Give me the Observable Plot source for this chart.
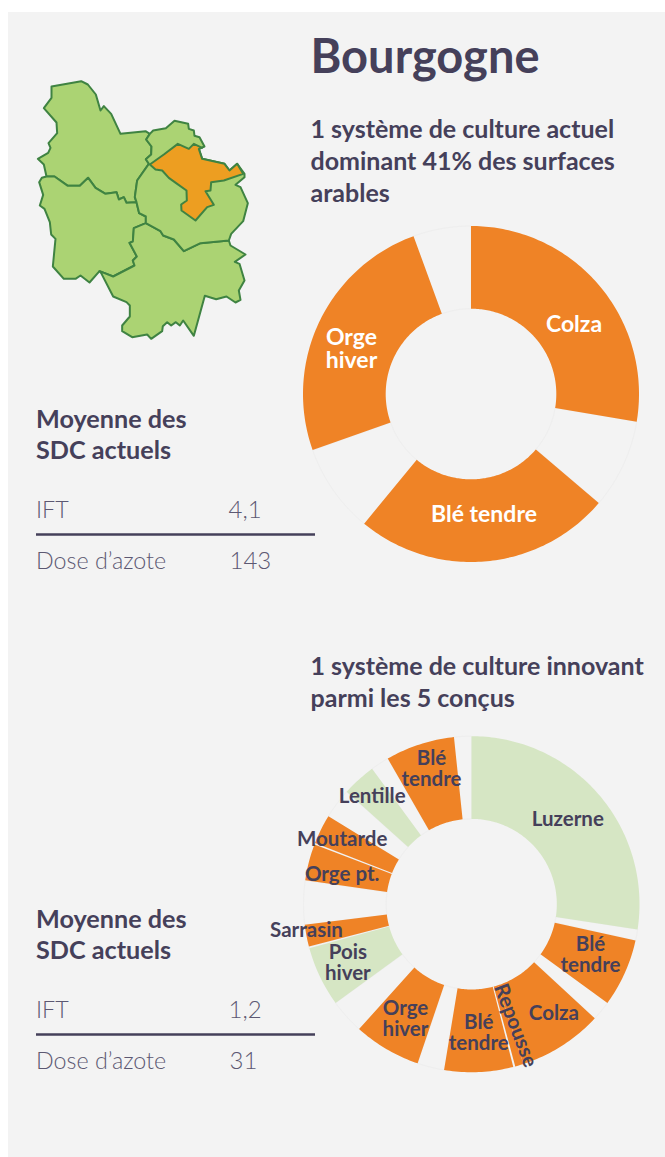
<!DOCTYPE html>
<html lang="fr">
<head>
<meta charset="utf-8">
<script src="https://cdn.jsdelivr.net/npm/d3@7"></script>
<script src="https://cdn.jsdelivr.net/npm/@observablehq/plot@0.6"></script>
<style>
html,body{margin:0;padding:0;background:#fff;}
#panel{position:absolute;left:8px;top:12px;width:657px;height:1145px;background:#f3f3f3;}
#chart{position:absolute;left:0;top:0;}
</style>
</head>
<body>
<div id="panel"></div>
<div id="chart"></div>
<script>
// ---- data: slice spans in degrees of the rotation (gap = no crop shown)
const currentCrops  = ["Colza","","Blé tendre","","Orge\nhiver",""];
const currentSpans  = [99.5,31,89,31,89.5,20];
const currentKinds  = ["crop","gap","crop","gap","crop","gap"];

const innovCrops = ["Luzerne","","Blé\ntendre","","Colza","Repousse","","Blé\ntendre","","Orge\nhiver","","Pois\nhiver","","Sarrasin","","Orge pt.","","Moutarde","","Lentille","","Blé\ntendre",""];
const innovSpans = [98.7,3.8,23.5,6.8,29.2,2.9,0.7,23.8,9.3,23.3,12,20.8,0.6,7.6,15.2,12.6,0.6,10.2,10.4,11.7,6.4,23.9,6];
const innovKinds = ["legume","gap","crop","gap","crop","crop","gap","crop","gap","crop","gap","legume","gap","crop","gap","crop","gap","crop","gap","legume","gap","crop","gap"];

// stats tables
const statHeading = "Moyenne des\nSDC actuels";
const statNames = ["IFT","Dose d’azote"];
const statCurrent = ["4,1","143"];
const statInnov = ["1,2","31"];

// map outlines
const mapYonne = [[93,78],[182,62],[202,72],[226,102],[240,150],[250,137],[272,160],[300,220],[375,212],[388,220],[377,237],[393,258],[392,282],[376,296],[385,310],[350,360],[343,410],[348,425],[318,427],[310,410],[295,417],[288,395],[255,400],[225,382],[203,352],[178,376],[142,376],[102,348],[78,348],[70,312],[52,295],[83,277],[90,262],[84,248],[110,218],[108,186],[70,143],[93,112]];
const mapNievre = [[78,348],[102,348],[142,376],[178,376],[203,352],[225,382],[255,400],[288,395],[295,417],[310,410],[318,427],[348,425],[356,458],[376,468],[376,488],[340,503],[337,543],[327,547],[349,588],[337,600],[342,615],[278,648],[237,632],[207,666],[180,645],[165,655],[130,655],[97,618],[105,535],[92,522],[88,485],[72,445],[58,435],[68,403],[56,365],[64,352]];
const mapSaone = [[376,488],[420,512],[428,525],[460,537],[490,572],[540,548],[625,540],[630,555],[675,582],[643,604],[657,610],[672,660],[655,690],[660,718],[645,726],[618,708],[587,716],[553,706],[520,826],[488,780],[478,795],[466,785],[452,795],[440,785],[427,797],[425,812],[392,835],[380,822],[335,830],[305,812],[305,795],[328,768],[328,735],[318,725],[278,708],[242,638],[237,632],[278,648],[342,615],[337,600],[349,588],[327,547],[337,543],[340,503]];
const mapCote = [[388,220],[398,210],[436,203],[462,181],[503,190],[505,205],[520,210],[522,226],[537,230],[552,258],[535,265],[545,295],[612,310],[627,330],[650,310],[672,340],[672,350],[645,373],[660,380],[682,428],[668,482],[632,520],[625,540],[540,548],[490,572],[460,537],[428,525],[420,512],[376,488],[376,468],[356,458],[348,425],[343,410],[350,360],[385,310],[376,296],[392,282],[393,258],[377,237]];
const mapZone = [[388,312],[430,282],[472,250],[505,265],[520,250],[545,262],[535,265],[545,295],[612,310],[627,330],[650,310],[668,340],[610,360],[572,365],[570,390],[555,392],[580,433],[560,440],[525,480],[483,450],[482,432],[499,420],[498,390],[470,370],[445,352],[425,330],[405,327]];

// ---- layout, separate from the data
const INK="#45405a", ORANGE="#ef8326", LEGUME="#d6e6c4", GAP="#f3f3f3", GAPEDGE="#eeeeee";
const R0=85.3, R1=168;
const donutA={cx:470.5,cy:393.5}, donutB={cx:471,cy:903.7};
const sliceFill={crop:ORANGE,legume:LEGUME,gap:GAP};
const mapX=x=>x/3+20, mapY=y=>y/3+60;

function ring(spans,kinds,c,id){
  const arcs=d3.pie().sort(null).value(d=>d)(spans);
  const pts=[];
  arcs.forEach((a,i)=>{
    const k=kinds[i], n=Math.max(2,Math.ceil((a.endAngle-a.startAngle)*180/Math.PI));
    const ang=d3.range(n+1).map(j=>a.startAngle+(a.endAngle-a.startAngle)*j/n);
    const push=(t,r)=>pts.push({id:id+i,kind:k,x:c.cx+r*Math.sin(t),y:c.cy-r*Math.cos(t)});
    ang.forEach(t=>push(t,R1));
    ang.slice().reverse().forEach(t=>push(t,R0));
  });
  return pts;
}
const polys=[];
[["y",mapYonne,"#abd373"],["n",mapNievre,"#abd373"],["s",mapSaone,"#abd373"],["c",mapCote,"#abd373"],["z",mapZone,"#ed9e21"]]
 .forEach(([id,p,f])=>p.forEach(([x,y])=>polys.push({id,f,x:mapX(x),y:mapY(y)})));

const ringA=ring(currentSpans,currentKinds,donutA,"a");
const ringB=ring(innovSpans,innovKinds,donutB,"b");
const slices=[...ringA,...ringB];

// label placement: offset from each ring centre
const labelsA=[
 {t:currentCrops[0],dx:103,dy:-69.5},
 {t:currentCrops[2],dx:13,dy:120.5},
 {t:currentCrops[4],dx:-119.5,dy:-45}
].map(d=>({...d,x:donutA.cx+d.dx,y:donutA.cy+d.dy}));
const labelOffsetsB={0:[96.3,-85],2:[119,51],4:[82.3,108.6],7:[7.3,128.3],9:[-66,114.3],11:[-123.7,58.6],13:[-165,26.3],15:[-129.3,-30.4],17:[-129.3,-65.4],19:[-99.3,-107.7],21:[-40,-135]};
const labelsB=Object.entries(labelOffsetsB).map(([i,[dx,dy]])=>({t:innovCrops[i],x:donutB.cx+dx,y:donutB.cy+dy}));
const repousse=[{t:innovCrops[5],x:donutB.cx+44,y:donutB.cy+121.3}];

const tx={fontFamily:"Lato, sans-serif"};
const headers=[
 {t:"Bourgogne",x:310,y:57},
 {t:"1 système de culture actuel\ndominant 41% des surfaces\narables",x:310,y:159.5},
 {t:"1 système de culture innovant\nparmi les 5 conçus",x:310,y:680.5}
];
const blocks=[
 {y0:0,vals:statCurrent},
 {y0:500,vals:statInnov}
];
const headRows=blocks.map(b=>({t:statHeading,x:35.5,y:433+b.y0}));
const statRows=blocks.flatMap(b=>[
 {t:statNames[0],x:35.5,y:510+b.y0},{t:statNames[1],x:35.5,y:561+b.y0}
]);
const statVals=blocks.flatMap(b=>[
 {t:b.vals[0],x:228,y:510+b.y0},{t:b.vals[1],x:229,y:561+b.y0}
]);
const rules=blocks.map(b=>({x1:36,x2:315,y:534+b.y0}));

const chart=Plot.plot({
 width:665,height:1157,margin:0,
 x:{domain:[0,665],range:[0,665],axis:null},
 y:{domain:[0,1157],range:[0,1157],axis:null},
 style:{background:"transparent"},
 marks:[
  Plot.line(polys,{x:"x",y:"y",z:"id",fill:"f",stroke:"#3f8342",strokeWidth:2,strokeLinejoin:"round",curve:"linear-closed"}),
  Plot.line(slices,{x:"x",y:"y",z:"id",fill:d=>sliceFill[d.kind],stroke:GAPEDGE,strokeWidth:1,curve:"linear-closed",filter:d=>d.kind==="gap"}),
  Plot.line(slices,{x:"x",y:"y",z:"id",fill:d=>sliceFill[d.kind],stroke:"none",curve:"linear-closed",filter:d=>d.kind!=="gap"}),
  Plot.ruleY(rules,{x1:"x1",x2:"x2",y:"y",stroke:INK,strokeWidth:2.5}),
  Plot.text(headers.slice(0,1),{x:"x",y:"y",text:"t",textAnchor:"start",fontSize:47,fontWeight:700,fill:INK,...tx}),
  Plot.text(headers.slice(1),{x:"x",y:"y",text:"t",textAnchor:"start",fontSize:25,lineHeight:1.27,fontWeight:700,fill:INK,...tx}),
  Plot.text(headRows,{x:"x",y:"y",text:"t",textAnchor:"start",fontSize:25.2,lineHeight:1.24,fontWeight:700,fill:INK,...tx}),
  Plot.text(statRows,{x:"x",y:"y",text:"t",textAnchor:"start",fontSize:23.3,fontWeight:300,fill:"#5c5872",...tx}),
  Plot.text(statVals,{x:"x",y:"y",text:"t",textAnchor:"start",fontSize:24,fontWeight:300,fill:"#5c5872",...tx}),
  Plot.text(labelsA,{x:"x",y:"y",text:"t",fontSize:23,lineHeight:1,fontWeight:700,fill:"#ffffff",...tx}),
  Plot.text(labelsB,{x:"x",y:"y",text:"t",fontSize:20.5,lineHeight:1.02,fontWeight:700,fill:INK,...tx}),
  Plot.text(repousse,{x:"x",y:"y",text:"t",rotate:69,fontSize:20.5,fontWeight:700,fill:INK,...tx})
 ]
});
document.getElementById("chart").appendChild(chart);
</script>
</body>
</html>
